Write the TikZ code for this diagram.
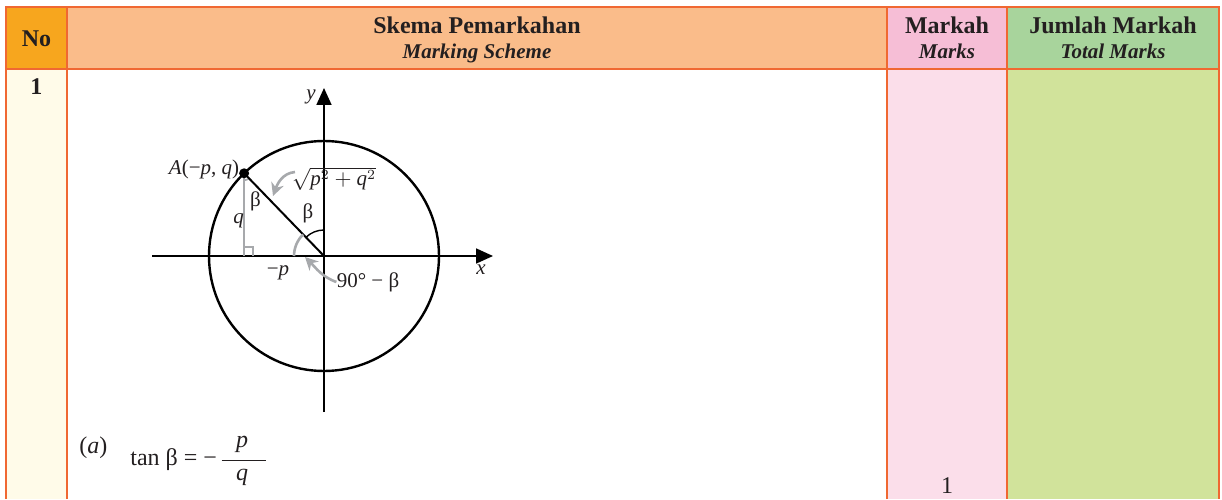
\documentclass[tikz,border=0pt]{standalone}
\usepackage{amsmath}
\usepackage{fontspec}
\setmainfont{Liberation Serif}
\usetikzlibrary{arrows.meta,calc}
\definecolor{lineOrange}{RGB}{240,104,50}
\definecolor{noHead}{RGB}{247,166,30}
\definecolor{skemaHead}{RGB}{250,188,138}
\definecolor{markHead}{RGB}{246,190,214}
\definecolor{totalHead}{RGB}{168,212,156}
\definecolor{noBody}{RGB}{255,251,233}
\definecolor{markBody}{RGB}{251,222,234}
\definecolor{totalBody}{RGB}{209,227,155}
\definecolor{textDark}{RGB}{35,31,32}
\definecolor{arrowGray}{RGB}{167,169,172}

\begin{document}
\begin{tikzpicture}[x=0.5pt, y=0.5pt,
    hdr/.style={font=\fontsize{12}{14}\selectfont\bfseries, text=textDark, anchor=base, inner sep=0pt},
    hdrsub/.style={font=\fontsize{10.5}{12}\selectfont\bfseries\itshape, text=textDark, anchor=base, inner sep=0pt},
    lbl/.style={font=\fontsize{10.5}{12}\selectfont, text=textDark, inner sep=0pt},
    ans/.style={font=\fontsize{12}{14}\selectfont, text=textDark, anchor=base, inner sep=0pt},
    grayarrow/.style={draw=arrowGray, line width=1.3pt, -{Stealth[length=6.5pt,width=6.5pt]}},
    axis/.style={line width=0.9pt, -{Triangle[length=8.5pt,width=7.5pt]}}]
      \useasboundingbox (0,0) rectangle (1222,499);

      % Header cells
      \fill[noHead] (6,430) rectangle (67,492);
      \fill[skemaHead] (67,430) rectangle (887,492);
      \fill[markHead] (887,430) rectangle (1007,492);
      \fill[totalHead] (1007,430) rectangle (1219,492);

      % Body cells
      \fill[noBody] (6,0) rectangle (67,430);
      \fill[markBody] (887,0) rectangle (1007,430);
      \fill[totalBody] (1007,0) rectangle (1219,430);

      % Grid lines
      \draw[line width=1pt, lineOrange] (6,0) -- (6,492) -- (1219,492) -- (1219,0);
      \draw[line width=1pt, lineOrange] (6,430) -- (1219,430);
      \foreach \x in {67,887,1007} \draw[line width=1pt, lineOrange] (\x,0) -- (\x,492);

      % Header text
      \node[hdr] (noHd) at (36.5,452) {No};
      \node[hdr] (skemaHd) at (477,465) {Skema Pemarkahan};
      \node[hdrsub] (skemaSub) at (477,440) {Marking Scheme};
      \node[hdr] (markHd) at (947,465) {Markah};
      \node[hdrsub] (markSub) at (947,440) {Marks};
      \node[hdr] (totalHd) at (1113,465) {Jumlah Markah};
      \node[hdrsub] (totalSub) at (1113,440) {Total Marks};

      % Question number and mark
      \node[hdr] (qNo) at (36.5,404) {1};
      \node[ans] (markOne) at (947,6) {1};

      % Circle and axes
      \coordinate (O) at (324,243);
      \coordinate (A) at ($(O)+(134:115)$);
      \coordinate (F) at (A |- O);
      \coordinate (xL) at (152,243);
      \coordinate (xR) at (493,243);
      \coordinate (yB) at (324,87);
      \coordinate (yT) at (324,411);
      \draw[line width=1.2pt] (O) circle[radius=115];
      \draw[axis] (xL) -- (xR);
      \draw[axis] (yB) -- (yT);

      % Triangle side q and right angle
      \draw[arrowGray, line width=1.3pt] (A) -- (F);
      \draw[arrowGray, line width=0.8pt] ($(F)+(0,9)$) -- ++(9,0) -- ++(0,-9);
      \draw[arrowGray, line width=0.8pt] ($(A)+(0,-7)$) arc[start angle=270, end angle=314, radius=7];

      % Radius OA
      \draw[line width=1pt] (O) -- (A);
      \fill (A) circle[radius=5];

      % Angles at origin
      \draw[line width=0.7pt] ($(O)+(0,26)$) arc[start angle=90, end angle=134, radius=26];
      \draw[arrowGray, line width=1.3pt] ($(O)+(134:30)$) arc[start angle=134, end angle=180, radius=30];

      % Labels
      \node[lbl] (yLbl) at (311,402) {\textit{y}};
      \node[lbl] (xLbl) at (481,229) {\textit{x}};
      \node[lbl] (ALbl) at (204,330) {\textit{A}(−\textit{p}, \textit{q})};
      \node[lbl] (root) at (334,320) {$\sqrt{\textit{p}^{2}+\textit{q}^{2}}$};
      \node[lbl] (betaA) at (255.5,298) {β};
      \node[lbl] (qLbl) at (238.5,278) {\textit{q}};
      \node[lbl] (betaO) at (308,286) {β};
      \node[lbl] (negP) at (278,226) {−\textit{p}};
      \node[lbl] (ninety) at (368,217) {90° − β};

      % Pointer arrows
      \coordinate (rootTail) at (295,327);
      \coordinate (rootTip) at (273,303);
      \coordinate (ninetyTip) at (305,242);
      \draw[grayarrow] (rootTail) to[out=185, in=70] (rootTip);
      \draw[grayarrow] (ninety.west) to[out=160, in=-45] (ninetyTip);

      % Part (a)
      \node[ans, anchor=base west] (partA) at (79,46) {(\textit{a})};
      \node[ans, anchor=base west] (tanEq) at (130,34) {tan β = −};
      \coordinate (barL) at (221.7,39);
      \coordinate (barR) at (265.7,39);
      \draw[line width=0.5pt, textDark] (barL) -- (barR);
      \node[ans] (fracP) at (242,52) {\textit{p}};
      \node[ans] (fracQ) at (242,19) {\textit{q}};
    \end{tikzpicture}
\end{document}
